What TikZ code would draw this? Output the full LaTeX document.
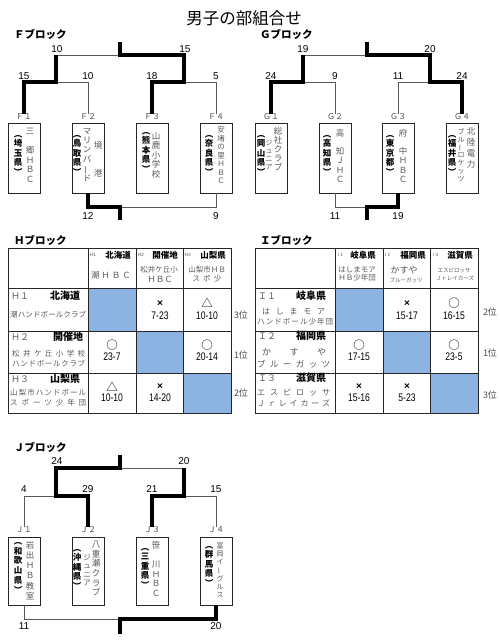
\documentclass[tikz,border=0pt]{standalone}
\usepackage{fontspec}
\usepackage{graphicx}
\setmainfont{Liberation Sans}
\newfontfamily\cjk{Noto Sans CJK JP}
\newfontfamily\narrow[FakeStretch=0.78]{Liberation Sans}
\makeatletter
\newcommand\vt[2][9.5pt]{\vbox{\baselineskip=#1\relax\lineskip=0pt\lineskiplimit=-20pt\vt@l#2\relax}}
\def\vt@l#1{\ifx#1\relax\else\hbox to 1em{\hss#1\hss}\expandafter\vt@l\fi}
\newcommand\spread[2]{\hbox to #1{\sp@l#2\relax}}
\def\sp@l#1{\ifx#1\relax\else#1\expandafter\sp@m\fi}
\def\sp@m#1{\ifx#1\relax\else\hfil#1\expandafter\sp@m\fi}
\makeatother
\newcommand\VB{\rotatebox[origin=c]{90}{ー}}
\definecolor{cellblue}{HTML}{8DB3E2}
\begin{document}
\begin{tikzpicture}[x=1pt,y=-1pt,
  thinln/.style={draw=black!65, line width=0.8pt},
  thickln/.style={draw=black, line width=3.6pt},
  num/.style={font=\fontsize{10}{10}\selectfont, inner sep=0},
  titlestyle/.style={font=\cjk\fontsize{16.5}{16.5}\selectfont, inner sep=0},
  blabel/.style={font=\cjk\bfseries\fontsize{10.5}{10.5}\selectfont, anchor=west, inner sep=0},
  teambox/.style={draw=black!85, line width=0.8pt, minimum width=32, minimum height=70, inner sep=0},
  boxlab/.style={font=\cjk\fontsize{8}{8}\selectfont, text=black!70, inner sep=0},
  vcol/.style={font=\cjk\fontsize{8.5}{8.5}\selectfont, inner sep=0, anchor=north, text=black!65},
  vpref/.style={font=\cjk\bfseries\fontsize{8.5}{8.5}\selectfont, inner sep=0, anchor=north},
  tbl/.style={draw=black!85, line width=0.7pt},
  hdsmall/.style={font=\fontsize{4.5}{4.5}\selectfont, text=black!70, inner sep=0, anchor=west},
  hdbold/.style={font=\cjk\bfseries\fontsize{8.5}{8.5}\selectfont, inner sep=0},
  hdteam/.style={font=\cjk\fontsize{7.5}{7.5}\selectfont, text=black!65, inner sep=0},
  rowid/.style={font=\cjk\fontsize{9}{9}\selectfont, text=black!65, inner sep=0, anchor=west},
  rowpref/.style={font=\cjk\bfseries\fontsize{10}{10}\selectfont, inner sep=0},
  rowteam/.style={font=\cjk\fontsize{7.5}{7.5}\selectfont, text=black!65, inner sep=0, anchor=west},
  resmark/.style={font=\cjk\fontsize{11.5}{11.5}\selectfont, inner sep=0},
  xmark/.style={font=\bfseries\fontsize{10}{10}\selectfont, inner sep=0},
  score/.style={font=\narrow\fontsize{11}{11}\selectfont, inner sep=0},
  rank/.style={font=\cjk\fontsize{9}{9}\selectfont, text=black!70, inner sep=0}
]
\useasboundingbox (0,0) rectangle (500,641);
\fill[white] (0,0) rectangle (500,641);

\node[titlestyle] (title) at (244,18) {男子の部組合せ};

% ================= F block =================
\node[blabel] (Flab) at (14,34) {Ｆブロック};
\coordinate (Fs) at (120,42); \coordinate (Fm) at (120,55);
\coordinate (FA) at (56,55);  \coordinate (FB) at (184,55);
\coordinate (FAd) at (56,82); \coordinate (FBd) at (184,82);
\coordinate (Fbm) at (120,207); \coordinate (Fbs) at (120,220);
\node[teambox] (F1) at (24,158) {};
\node[teambox] (F2) at (88,158) {};
\node[teambox] (F3) at (152,158) {};
\node[teambox] (F4) at (216,158) {};
\node[boxlab] (F1l) at (24,117) {Ｆ１};
\node[boxlab] (F2l) at (88,117) {Ｆ２};
\node[boxlab] (F3l) at (152,117) {Ｆ３};
\node[boxlab] (F4l) at (216,117) {Ｆ４};
\draw[thinln] (FA) -- (Fm);
\draw[thinln] (FAd) -- (F2l.north |- FAd) -- (F2l.north);
\draw[thinln] (FBd) -- (F4l.north |- FBd) -- (F4l.north);
\draw[thinln] (Fbm) -- (F4.south |- Fbm) -- (F4.south);
\draw[thickln] (F1l.north) -- (F1l.north |- FAd) -- (FAd) -- (FA);
\draw[thickln] (F3l.north) -- (F3l.north |- FBd) -- (FBd) -- (FB) -- (Fm) -- (Fs);
\draw[thickln] (F2.south) -- (F2.south |- Fbm) -- (Fbm) -- (Fbs);
\node[num] (nFa) at (57,49) {10};
\node[num] (nFb) at (185,49) {15};
\node[num] (nFc) at (24,76) {15};
\node[num] (nFd) at (88,76) {10};
\node[num] (nFe) at (152,76) {18};
\node[num] (nFf) at (216,76) {5};
\node[num] (nFg) at (88,216) {12};
\node[num] (nFh) at (216,216) {9};
% F texts
\node[vcol] (F1a) at (30,128) {\vt{三　郷ＨＢＣ}};
\node[vpref] (F1b) at (18,135) {\vt{︵埼玉県︶}};
\node[vcol] (F2a) at (98,141) {\vt[9.5pt]{境　　港}};
\node[vcol] (F2c) at (87,128) {\vt[9.4pt]{マリンバ\VB ド}};
\node[vpref] (F2b) at (77,135) {\vt{︵鳥取県︶}};
\node[vcol] (F3a) at (156,132) {\vt{山鹿小学校}};
\node[vpref] (F3b) at (146,132) {\vt{︵熊本県︶}};
\node[vcol, font=\cjk\fontsize{7.5}{7.5}\selectfont] (F4a) at (221,126) {\vt[8.5pt]{安堵の里ＨＢＣ}};
\node[vpref] (F4b) at (209,135) {\vt{︵奈良県︶}};

% ================= G block =================
\node[blabel] (Glab) at (260,34) {Ｇブロック};
\coordinate (Gs) at (367,42); \coordinate (Gm) at (367,55);
\coordinate (GA) at (303,55);  \coordinate (GB) at (430,55);
\coordinate (GAd) at (303,82); \coordinate (GBd) at (430,82);
\coordinate (Gbm) at (367,207); \coordinate (Gbs) at (367,220);
\node[teambox] (G1) at (271,158) {};
\node[teambox] (G2) at (335,158) {};
\node[teambox] (G3) at (398,158) {};
\node[teambox] (G4) at (462,158) {};
\node[boxlab] (G1l) at (271,117) {Ｇ１};
\node[boxlab] (G2l) at (335,117) {Ｇ２};
\node[boxlab] (G3l) at (398,117) {Ｇ３};
\node[boxlab] (G4l) at (462,117) {Ｇ４};
\draw[thinln] (GA) -- (Gm);
\draw[thinln] (GAd) -- (G2l.north |- GAd) -- (G2l.north);
\draw[thinln] (G3l.north) -- (G3l.north |- GBd) -- (GBd);
\draw[thinln] (G2.south) -- (G2.south |- Gbm) -- (Gbm);
\draw[thickln] (G1l.north) -- (G1l.north |- GAd) -- (GAd) -- (GA);
\draw[thickln] (G4l.north) -- (G4l.north |- GBd) -- (GBd) -- (GB) -- (Gm) -- (Gs);
\draw[thickln] (G3.south) -- (G3.south |- Gbm) -- (Gbm) -- (Gbs);
\node[num] (nGa) at (303,49) {19};
\node[num] (nGb) at (430,49) {20};
\node[num] (nGc) at (271,76) {24};
\node[num] (nGd) at (335,76) {9};
\node[num] (nGe) at (398,76) {11};
\node[num] (nGf) at (462,76) {24};
\node[num] (nGg) at (335,216) {11};
\node[num] (nGh) at (398,216) {19};
% G texts
\node[vcol] (G1a) at (278,127) {\vt[9pt]{総社クラブ}};
\node[vcol, font=\cjk\fontsize{7}{7}\selectfont] (G1c) at (269,140) {\vt[8pt]{ジュニア}};
\node[vpref] (G1b) at (261,135) {\vt{︵岡山県︶}};
\node[vcol] (G2a) at (340,129) {\vt[9.2pt]{高　知ＪＨＣ}};
\node[vpref] (G2b) at (327,135) {\vt{︵高知県︶}};
\node[vcol] (G3a) at (403,129) {\vt[9.2pt]{府　中ＨＢＣ}};
\node[vpref] (G3b) at (390,135) {\vt{︵東京都︶}};
\node[vcol] (G4a) at (471,127) {\vt[11pt]{北陸電力}};
\node[vcol, font=\cjk\fontsize{7}{7}\selectfont] (G4c) at (461,128) {\vt[7.8pt]{ブル\VB ロケッツ}};
\node[vpref] (G4b) at (452,135) {\vt{︵福井県︶}};

% ================= H block =================
\node[blabel] (Hlab) at (14,240) {Ｈブロック};
\fill[cellblue] (88,288) rectangle (136,331);
\fill[cellblue] (136,331) rectangle (183,373);
\fill[cellblue] (183,373) rectangle (231,413);
\draw[tbl] (8,248) rectangle (231,413);
\foreach \xx in {88,136,183} \draw[tbl] (\xx,248) -- (\xx,413);
\foreach \yy in {288,331,373} \draw[tbl] (8,\yy) -- (231,\yy);
% header
\node[hdsmall] (hH1s) at (90,255) {H1};
\node[hdbold] (hH1p) at (118,255) {北海道};
\node[hdteam, font=\cjk\fontsize{8.5}{8.5}\selectfont] (hH1t) at (111,275) {\spread{40pt}{潮ＨＢＣ}};
\node[hdsmall] (hH2s) at (138,255) {H2};
\node[hdbold] (hH2p) at (165,255) {開催地};
\node[hdteam] (hH2t) at (159,270) {松井ケ丘小};
\node[hdteam, font=\cjk\fontsize{8.5}{8.5}\selectfont] (hH2u) at (160,279) {ＨＢＣ};
\node[hdsmall] (hH3s) at (185,255) {H3};
\node[hdbold] (hH3p) at (213,255) {山梨県};
\node[hdteam] (hH3t) at (207,270) {山梨市ＨＢ};
\node[hdteam] (hH3u) at (207,279) {\spread{29pt}{スポ少}};
% rows
\node[rowid] (rH1i) at (11,296) {Ｈ１};
\node[rowpref] (rH1p) at (65,296) {北海道};
\node[rowteam] (rH1t) at (10,315) {\spread{76pt}{潮ハンドボールクラブ}};
\node[rowid] (rH2i) at (11,337) {Ｈ２};
\node[rowpref] (rH2p) at (68,337) {開催地};
\node[rowteam] (rH2t) at (12,354) {\spread{73pt}{松井ケ丘小学校}};
\node[rowteam] (rH2u) at (12,363) {\spread{73pt}{ハンドボールクラブ}};
\node[rowid] (rH3i) at (11,379) {Ｈ３};
\node[rowpref] (rH3p) at (65,379) {山梨県};
\node[rowteam] (rH3t) at (10,393) {\spread{76pt}{山梨市ハンドボール}};
\node[rowteam] (rH3u) at (10,403) {\spread{76pt}{スポーツ少年団}};
% results
\node[xmark] (h12m) at (160,304) {×};
\node[score] (h12s) at (160,316) {7-23};
\node[resmark] (h13m) at (207,303) {△};
\node[score] (h13s) at (207,316) {10-10};
\node[resmark] (h21m) at (112,345) {○};
\node[score] (h21s) at (112,357) {23-7};
\node[resmark] (h23m) at (207,345) {○};
\node[score] (h23s) at (207,357) {20-14};
\node[resmark] (h31m) at (112,387) {△};
\node[score] (h31s) at (112,398) {10-10};
\node[xmark] (h32m) at (160,387) {×};
\node[score] (h32s) at (160,398) {14-20};
\node[rank] (hR1) at (241,315) {3位};
\node[rank] (hR2) at (241,355) {1位};
\node[rank] (hR3) at (241,393) {2位};

% ================= I block =================
\node[blabel] (Ilab) at (260,240) {Ｉブロック};
\fill[cellblue] (335,288) rectangle (383,331);
\fill[cellblue] (383,331) rectangle (430,373);
\fill[cellblue] (430,373) rectangle (478,413);
\draw[tbl] (255,248) rectangle (478,413);
\foreach \xx in {335,383,430} \draw[tbl] (\xx,248) -- (\xx,413);
\foreach \yy in {288,331,373} \draw[tbl] (255,\yy) -- (478,\yy);
% header
\node[hdsmall] (hI1s) at (338,255) {I 1};
\node[hdbold] (hI1p) at (363,255) {岐阜県};
\node[hdteam] (hI1t) at (357,270) {はしまモア};
\node[hdteam] (hI1u) at (357,278) {ＨＢ少年団};
\node[hdsmall] (hI2s) at (385,255) {I 2};
\node[hdbold] (hI2p) at (413,255) {福岡県};
\node[hdteam, font=\cjk\fontsize{9}{9}\selectfont] (hI2t) at (404,270) {かすや};
\node[hdteam, font=\cjk\fontsize{5.5}{5.5}\selectfont] (hI2u) at (406,280) {ブルーガッツ};
\node[hdsmall] (hI3s) at (433,255) {I 3};
\node[hdbold] (hI3p) at (460,255) {滋賀県};
\node[hdteam, font=\cjk\fontsize{5.5}{5.5}\selectfont] (hI3t) at (454,270) {エスピロッサ};
\node[hdteam, font=\cjk\fontsize{5.5}{5.5}\selectfont] (hI3u) at (455,278) {Ｊｒレイカーズ};
% rows
\node[rowid] (rI1i) at (258,296) {Ｉ１};
\node[rowpref] (rI1p) at (311,296) {岐阜県};
\node[rowteam, font=\cjk\fontsize{8}{8}\selectfont] (rI1t) at (262,312) {\spread{63pt}{はしまモア}};
\node[rowteam] (rI1u) at (257,322) {\spread{76pt}{ハンドボール少年団}};
\node[rowid] (rI2i) at (258,336) {Ｉ２};
\node[rowpref] (rI2p) at (311,336) {福岡県};
\node[rowteam, font=\cjk\fontsize{9}{9}\selectfont] (rI2t) at (262,352) {\spread{64pt}{かすや}};
\node[rowteam, font=\cjk\fontsize{8.5}{8.5}\selectfont] (rI2u) at (257,364) {\spread{73pt}{ブルーガッツ}};
\node[rowid] (rI3i) at (258,378) {Ｉ３};
\node[rowpref] (rI3p) at (311,378) {滋賀県};
\node[rowteam, font=\cjk\fontsize{8}{8}\selectfont] (rI3t) at (257,393) {\spread{73pt}{エスピロッサ}};
\node[rowteam, font=\cjk\fontsize{8}{8}\selectfont] (rI3u) at (257,403) {\spread{73pt}{Ｊｒレイカーズ}};
% results
\node[xmark] (i12m) at (407,304) {×};
\node[score] (i12s) at (407,316) {15-17};
\node[resmark] (i13m) at (454,303) {○};
\node[score] (i13s) at (454,316) {16-15};
\node[resmark] (i21m) at (359,345) {○};
\node[score] (i21s) at (359,357) {17-15};
\node[resmark] (i23m) at (454,345) {○};
\node[score] (i23s) at (454,357) {23-5};
\node[xmark] (i31m) at (359,387) {×};
\node[score] (i31s) at (359,398) {15-16};
\node[xmark] (i32m) at (407,387) {×};
\node[score] (i32s) at (407,398) {5-23};
\node[rank] (iR1) at (490,312) {2位};
\node[rank] (iR2) at (490,353) {1位};
\node[rank] (iR3) at (490,395) {3位};

% ================= J block =================
\node[blabel] (Jlab) at (14,447) {Ｊブロック};
\coordinate (Js) at (120,455); \coordinate (Jm) at (120,468);
\coordinate (JA) at (56,468);  \coordinate (JB) at (184,468);
\coordinate (JAd) at (56,496); \coordinate (JBd) at (184,496);
\coordinate (Jbm) at (120,619); \coordinate (Jbs) at (120,634);
\node[teambox, minimum height=68] (J1) at (24,571) {};
\node[teambox, minimum height=68] (J2) at (88,571) {};
\node[teambox, minimum height=68] (J3) at (152,571) {};
\node[teambox, minimum height=68] (J4) at (216,571) {};
\node[boxlab] (J1l) at (24,530) {Ｊ１};
\node[boxlab] (J2l) at (88,530) {Ｊ２};
\node[boxlab] (J3l) at (152,530) {Ｊ３};
\node[boxlab] (J4l) at (216,530) {Ｊ４};
\draw[thinln] (Jm) -- (JB);
\draw[thinln] (J1l.north) -- (J1l.north |- JAd) -- (JAd);
\draw[thinln] (JBd) -- (J4l.north |- JBd) -- (J4l.north);
\draw[thinln] (J1.south) -- (J1.south |- Jbm) -- (Jbm);
\draw[thickln] (J2l.north) -- (J2l.north |- JAd) -- (JAd) -- (JA) -- (Jm) -- (Js);
\draw[thickln] (J3l.north) -- (J3l.north |- JBd) -- (JBd) -- (JB);
\draw[thickln] (J4.south) -- (J4.south |- Jbm) -- (Jbm) -- (Jbs);
\node[num] (nJa) at (57,461) {24};
\node[num] (nJb) at (184,461) {20};
\node[num] (nJc) at (24,489) {4};
\node[num] (nJd) at (88,489) {29};
\node[num] (nJe) at (152,489) {21};
\node[num] (nJf) at (216,489) {15};
\node[num] (nJg) at (24,626) {11};
\node[num] (nJh) at (216,626) {20};
% J texts
\node[vcol] (J1a) at (30,541) {\vt[10.2pt]{岩出ＨＢ教室}};
\node[vpref] (J1b) at (18,542) {\vt[9.8pt]{︵和歌山県︶}};
\node[vcol] (J2a) at (96,541) {\vt[9.6pt]{八重瀬クラブ}};
\node[vcol, font=\cjk\fontsize{7.5}{7.5}\selectfont] (J2c) at (87,554) {\vt[8.5pt]{ジュニア}};
\node[vpref] (J2b) at (77,549) {\vt{︵沖縄県︶}};
\node[vcol] (J3a) at (156,541) {\vt[9.6pt]{笹　川ＨＢＣ}};
\node[vpref] (J3b) at (145,548) {\vt{︵三重県︶}};
\node[vcol, font=\cjk\fontsize{7}{7}\selectfont] (J4a) at (220,542) {\vt[8.3pt]{富岡イ\VB グルス}};
\node[vpref] (J4b) at (209,546) {\vt{︵群馬県︶}};
\end{tikzpicture}
\end{document}
